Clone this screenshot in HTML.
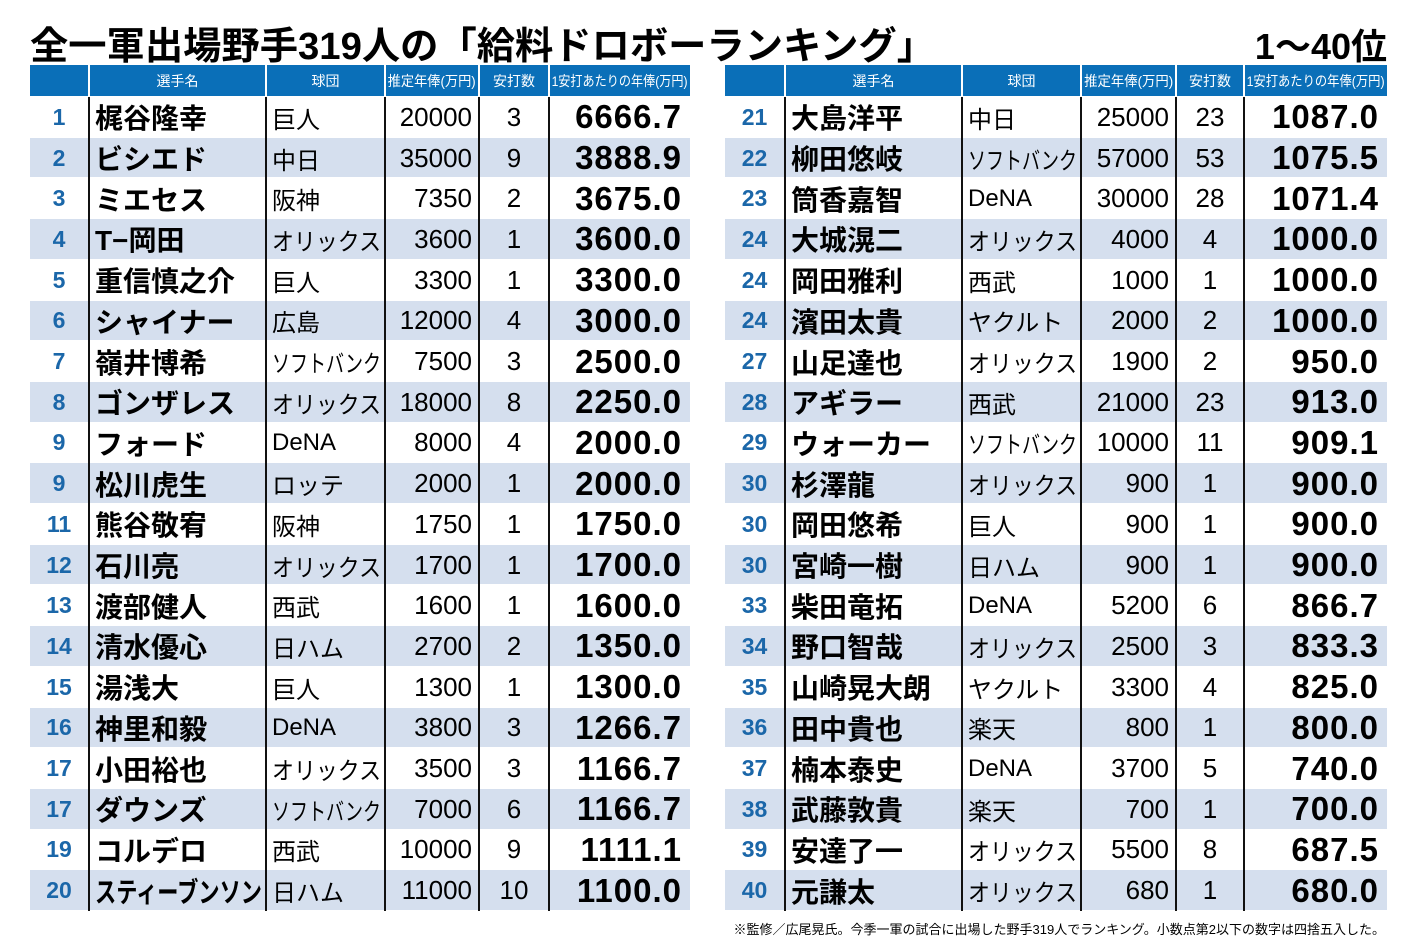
<!DOCTYPE html>
<html><head><meta charset="utf-8">
<style>
body{margin:0;width:1417px;height:945px;background:#fff;position:relative;overflow:hidden;font-family:"Liberation Sans","Noto Sans CJK JP",sans-serif;}
.abs{position:absolute;}
.title{left:30px;top:15px;font-size:38px;font-weight:bold;white-space:nowrap;transform-origin:left center;}
.rng{right:30px;top:18px;font-size:36px;font-weight:bold;}
.hd{background:#0a6fb8;color:#fff;font-size:14px;display:flex;align-items:center;justify-content:center;top:65px;height:31px;white-space:nowrap;overflow:hidden;}
.cell{position:absolute;display:flex;align-items:center;height:40.7px;white-space:nowrap;overflow:visible;}
.cell span,.hd span{display:inline-block;}
.vl{position:absolute;width:2px;background:#111;}
.note{right:32px;top:919px;font-size:13px;white-space:nowrap;}
</style></head><body>
<div class="abs title" id="ttl">全一軍出場野手319人の「給料ドロボーランキング」</div>
<div class="abs rng">1～40位</div>
<div id="tbl"></div>
<div class="abs note">※監修／広尾晃氏。今季一軍の試合に出場した野手319人でランキング。小数点第2以下の数字は四捨五入した。</div>
<script>
const ranks=[1,2,3,4,5,6,7,8,9,9,11,12,13,14,15,16,17,17,19,20,21,22,23,24,24,24,27,28,29,30,30,30,33,34,35,36,37,38,39,40];
const names=["梶谷隆幸","ビシエド","ミエセス","T−岡田","重信慎之介","シャイナー","嶺井博希","ゴンザレス","フォード","松川虎生","熊谷敬宥","石川亮","渡部健人","清水優心","湯浅大","神里和毅","小田裕也","ダウンズ","コルデロ","スティーブンソン","大島洋平","柳田悠岐","筒香嘉智","大城滉二","岡田雅利","濱田太貴","山足達也","アギラー","ウォーカー","杉澤龍","岡田悠希","宮崎一樹","柴田竜拓","野口智哉","山崎晃大朗","田中貴也","楠本泰史","武藤敦貴","安達了一","元謙太"];
const teams=["巨人","中日","阪神","オリックス","巨人","広島","ソフトバンク","オリックス","DeNA","ロッテ","阪神","オリックス","西武","日ハム","巨人","DeNA","オリックス","ソフトバンク","西武","日ハム","中日","ソフトバンク","DeNA","オリックス","西武","ヤクルト","オリックス","西武","ソフトバンク","オリックス","巨人","日ハム","DeNA","オリックス","ヤクルト","楽天","DeNA","楽天","オリックス","オリックス"];
const salaries=[20000,35000,7350,3600,3300,12000,7500,18000,8000,2000,1750,1700,1600,2700,1300,3800,3500,7000,10000,11000,25000,57000,30000,4000,1000,2000,1900,21000,10000,900,900,900,5200,2500,3300,800,3700,700,5500,680];
const hits=[3,9,2,1,1,4,3,8,4,1,1,1,1,2,1,3,3,6,9,10,23,53,28,4,1,2,2,23,11,1,1,1,6,3,4,1,5,1,8,1];
const headers=["","選手名","球団","推定年俸(万円)","安打数","1安打あたりの年俸(万円)"];
const panels=[{x:[30,88,265,384,478,548,690]},{x:[725,784,961,1080,1175,1243,1387]}];
const tbl=document.getElementById('tbl');
const top0=97, rh=40.7;
const fits=[];
function mk(cls,css,txt){const d=document.createElement('div');d.className=cls;Object.assign(d.style,css);if(txt!==undefined){const s=document.createElement('span');s.textContent=txt;d.appendChild(s);}tbl.appendChild(d);return d;}
panels.forEach((p,pi)=>{
  for(let c=0;c<6;c++){
    const w=p.x[c+1]-p.x[c]-(c?2:0);
    const h=mk('abs hd',{left:(p.x[c]+(c?2:0))+'px',width:w+'px'},headers[c]);
    
    
    fits.push([h.firstChild,w-4,'center']);
  }
  for(let r=0;r<20;r++){
    const i=pi*20+r, y=top0+r*rh;
    if(r%2===1){const bg=mk('abs',{left:p.x[0]+'px',top:y+'px',width:(p.x[6]-p.x[0])+'px',height:(rh-1)+'px',background:'#d5dfee'});
      
      }
    const per=(salaries[i]/hits[i]).toFixed(1);
    const vals=[ranks[i],names[i],teams[i],salaries[i],hits[i],per];
    const styles=[
      {justifyContent:'center',color:'#1b67a9',fontSize:'23px',fontWeight:'bold'},
      {paddingLeft:'5px',fontSize:'28px',fontWeight:'bold'},
      {paddingLeft:'5px',fontSize:'24px'},
      {justifyContent:'flex-end',paddingRight:'6px',fontSize:'26px'},
      {justifyContent:'center',fontSize:'26px'},
      {justifyContent:'flex-end',paddingRight:'8px',fontSize:'33px',fontWeight:'bold',letterSpacing:'1px'}];
    const pads=[0,5,5,6,0,8];
    const origins=['center','left','left','right','center','right'];
    const nm=['rank','player-name','team','salary','hits','salary-per-hit'];
    for(let c=0;c<6;c++){
      const w=p.x[c+1]-p.x[c]-(c?2:0);
      const st=Object.assign({left:(p.x[c]+(c?2:0))+'px',top:y+'px',width:w+'px',boxSizing:'border-box'},styles[c]);
      const d=mk('cell',st,String(vals[c]));
      
      
      fits.push([d.firstChild,w-pads[c]-3,origins[c]]);
    }
  }
  for(let c=1;c<6;c++){
    const v=mk('vl',{left:p.x[c]+'px',top:'97px',height:(20*rh)+'px'});
    
    
  }
});
fits.forEach(([s,max,o])=>{const w=s.getBoundingClientRect().width;if(w>max){s.style.transform='scaleX('+(max/w)+')';s.style.transformOrigin=o+' center';}});
const t=document.getElementById('ttl');const tw=t.getBoundingClientRect().width;t.style.transform='scaleX('+(905/tw)+')';
</script>
</body></html>
